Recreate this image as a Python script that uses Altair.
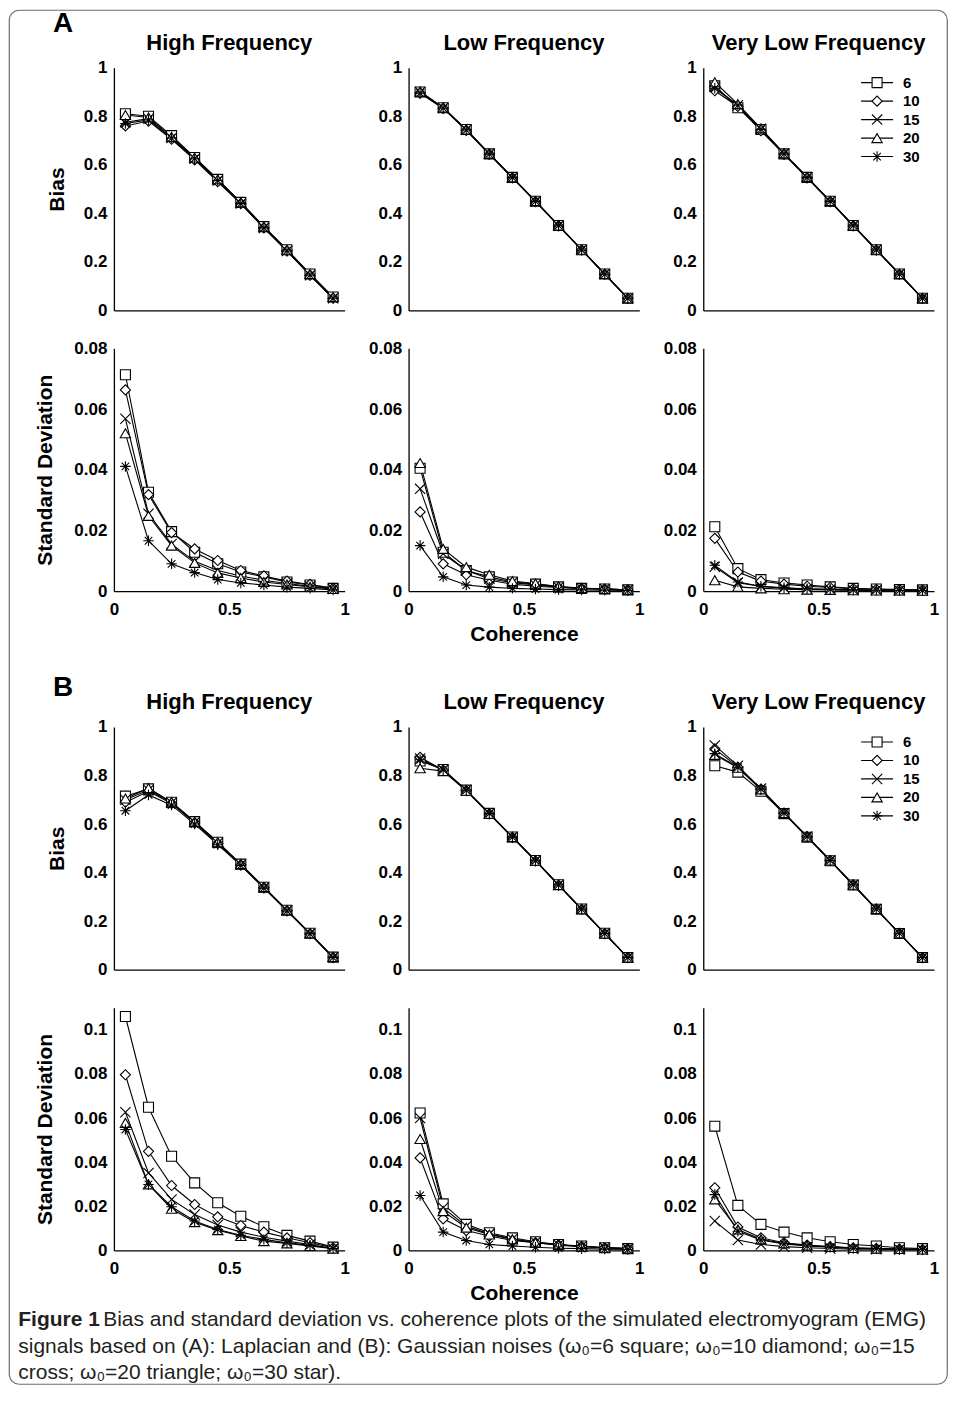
import altair as alt
import pandas as pd

FONT = "Liberation Sans"

# ---------------- data ----------------
COHERENCE = [0.05, 0.15, 0.25, 0.35, 0.45, 0.55, 0.65, 0.75, 0.85, 0.95]
SERIES = ["6", "10", "15", "20", "30"]

A_HF_BIAS = {
    "6":  [0.81, 0.80, 0.72, 0.63, 0.54, 0.445, 0.345, 0.25, 0.15, 0.055],
    "10": [0.76, 0.78, 0.705, 0.62, 0.53, 0.44, 0.34, 0.245, 0.145, 0.05],
    "15": [0.775, 0.79, 0.71, 0.625, 0.535, 0.44, 0.34, 0.245, 0.145, 0.05],
    "20": [0.805, 0.795, 0.715, 0.63, 0.54, 0.445, 0.345, 0.25, 0.15, 0.055],
    "30": [0.77, 0.785, 0.71, 0.625, 0.535, 0.44, 0.34, 0.245, 0.145, 0.05],
}
A_LF_BIAS = {
    "6":  [0.90, 0.835, 0.745, 0.645, 0.548, 0.45, 0.35, 0.25, 0.15, 0.05],
    "10": [0.895, 0.832, 0.742, 0.643, 0.546, 0.448, 0.348, 0.249, 0.149, 0.05],
    "15": [0.90, 0.834, 0.744, 0.645, 0.547, 0.449, 0.349, 0.25, 0.15, 0.05],
    "20": [0.902, 0.836, 0.745, 0.646, 0.548, 0.45, 0.35, 0.25, 0.15, 0.05],
    "30": [0.895, 0.833, 0.743, 0.644, 0.547, 0.449, 0.349, 0.249, 0.149, 0.05],
}
A_VLF_BIAS = {
    "6":  [0.925, 0.835, 0.745, 0.645, 0.548, 0.45, 0.35, 0.25, 0.15, 0.05],
    "10": [0.905, 0.84, 0.74, 0.643, 0.546, 0.448, 0.348, 0.249, 0.149, 0.05],
    "15": [0.92, 0.845, 0.748, 0.646, 0.548, 0.449, 0.349, 0.25, 0.15, 0.05],
    "20": [0.94, 0.85, 0.75, 0.647, 0.55, 0.45, 0.35, 0.25, 0.15, 0.05],
    "30": [0.915, 0.845, 0.746, 0.645, 0.547, 0.449, 0.349, 0.249, 0.149, 0.05],
}
A_HF_SD = {
    "6":  [0.0713, 0.0326, 0.0196, 0.0128, 0.009, 0.0063, 0.0047, 0.003, 0.002, 0.0009],
    "10": [0.0663, 0.0318, 0.0193, 0.0139, 0.0101, 0.0068, 0.005, 0.0033, 0.0022, 0.001],
    "15": [0.0568, 0.0255, 0.0155, 0.0098, 0.0068, 0.005, 0.0036, 0.0025, 0.0016, 0.0007],
    "20": [0.052, 0.0248, 0.015, 0.0093, 0.006, 0.0043, 0.003, 0.0022, 0.0014, 0.0007],
    "30": [0.0411, 0.0166, 0.009, 0.0061, 0.0038, 0.0027, 0.002, 0.0013, 0.0009, 0.0004],
}
A_LF_SD = {
    "6":  [0.0405, 0.0128, 0.0068, 0.0047, 0.003, 0.0023, 0.0014, 0.0009, 0.0007, 0.0004],
    "10": [0.0261, 0.009, 0.0054, 0.0036, 0.0023, 0.0016, 0.0012, 0.0009, 0.0007, 0.0004],
    "15": [0.0337, 0.0123, 0.0068, 0.0041, 0.0028, 0.002, 0.0013, 0.0009, 0.0007, 0.0004],
    "20": [0.0422, 0.0139, 0.0079, 0.0054, 0.0033, 0.0025, 0.0015, 0.001, 0.0007, 0.0004],
    "30": [0.015, 0.0047, 0.002, 0.0013, 0.0009, 0.0007, 0.0005, 0.0004, 0.0003, 0.0002],
}
A_VLF_SD = {
    "6":  [0.0212, 0.0074, 0.0038, 0.0027, 0.002, 0.0014, 0.0009, 0.0007, 0.0005, 0.0004],
    "10": [0.0174, 0.0063, 0.0033, 0.0023, 0.0016, 0.0012, 0.0008, 0.0006, 0.0005, 0.0003],
    "15": [0.008, 0.0028, 0.0015, 0.001, 0.0007, 0.0005, 0.0004, 0.0003, 0.0002, 0.0002],
    "20": [0.0036, 0.0014, 0.0009, 0.0006, 0.0005, 0.0004, 0.0003, 0.0002, 0.0002, 0.0001],
    "30": [0.0085, 0.003, 0.0016, 0.0011, 0.0008, 0.0006, 0.0004, 0.0003, 0.0002, 0.0002],
}
B_HF_BIAS = {
    "6":  [0.715, 0.745, 0.69, 0.61, 0.525, 0.435, 0.34, 0.245, 0.15, 0.052],
    "10": [0.69, 0.735, 0.685, 0.605, 0.52, 0.432, 0.338, 0.243, 0.148, 0.05],
    "15": [0.70, 0.74, 0.688, 0.607, 0.522, 0.433, 0.339, 0.244, 0.149, 0.051],
    "20": [0.705, 0.748, 0.69, 0.61, 0.525, 0.435, 0.34, 0.245, 0.15, 0.052],
    "30": [0.655, 0.72, 0.678, 0.60, 0.515, 0.43, 0.336, 0.242, 0.148, 0.05],
}
B_LF_BIAS = {
    "6":  [0.86, 0.825, 0.74, 0.644, 0.547, 0.45, 0.35, 0.25, 0.15, 0.05],
    "10": [0.875, 0.822, 0.738, 0.642, 0.545, 0.448, 0.348, 0.249, 0.149, 0.05],
    "15": [0.87, 0.824, 0.74, 0.644, 0.547, 0.449, 0.349, 0.25, 0.15, 0.05],
    "20": [0.83, 0.818, 0.737, 0.642, 0.546, 0.449, 0.349, 0.249, 0.149, 0.05],
    "30": [0.865, 0.823, 0.739, 0.643, 0.546, 0.449, 0.349, 0.249, 0.149, 0.05],
}
B_VLF_BIAS = {
    "6":  [0.84, 0.814, 0.735, 0.643, 0.546, 0.449, 0.349, 0.249, 0.149, 0.05],
    "10": [0.91, 0.835, 0.744, 0.645, 0.548, 0.45, 0.35, 0.25, 0.15, 0.05],
    "15": [0.924, 0.84, 0.746, 0.646, 0.549, 0.45, 0.35, 0.25, 0.15, 0.05],
    "20": [0.885, 0.832, 0.743, 0.645, 0.548, 0.45, 0.35, 0.25, 0.15, 0.05],
    "30": [0.89, 0.834, 0.744, 0.645, 0.548, 0.45, 0.35, 0.25, 0.15, 0.05],
}
B_HF_SD = {
    "6":  [0.106, 0.0649, 0.0427, 0.0306, 0.0216, 0.0155, 0.0107, 0.0068, 0.0042, 0.0015],
    "10": [0.0796, 0.0449, 0.0294, 0.0208, 0.0152, 0.0113, 0.0083, 0.0057, 0.0035, 0.0012],
    "15": [0.0626, 0.0351, 0.0231, 0.0163, 0.0115, 0.0083, 0.006, 0.0042, 0.0027, 0.0009],
    "20": [0.0578, 0.0299, 0.0189, 0.0128, 0.0092, 0.0065, 0.0042, 0.0032, 0.002, 0.0008],
    "30": [0.0548, 0.0299, 0.0198, 0.0133, 0.0095, 0.0069, 0.005, 0.0035, 0.0023, 0.0009],
}
B_LF_SD = {
    "6":  [0.0623, 0.0211, 0.0118, 0.008, 0.0057, 0.0039, 0.0027, 0.002, 0.0012, 0.0008],
    "10": [0.0419, 0.0143, 0.009, 0.0065, 0.0045, 0.0035, 0.0025, 0.0018, 0.0012, 0.0008],
    "15": [0.060, 0.0193, 0.011, 0.0075, 0.0052, 0.0037, 0.0026, 0.0019, 0.0012, 0.0008],
    "20": [0.0505, 0.0178, 0.0103, 0.0072, 0.005, 0.0035, 0.0024, 0.0017, 0.0012, 0.0008],
    "30": [0.0249, 0.0083, 0.0045, 0.0027, 0.002, 0.0014, 0.001, 0.0008, 0.0006, 0.0004],
}
B_VLF_SD = {
    "6":  [0.0563, 0.0204, 0.0118, 0.0083, 0.0057, 0.0039, 0.0027, 0.002, 0.0012, 0.0008],
    "10": [0.0284, 0.0106, 0.0057, 0.0035, 0.0024, 0.0017, 0.0012, 0.0009, 0.0006, 0.0004],
    "15": [0.0133, 0.0047, 0.0027, 0.0017, 0.0012, 0.0009, 0.0006, 0.0005, 0.0004, 0.0003],
    "20": [0.0231, 0.0095, 0.005, 0.0032, 0.0022, 0.0016, 0.0011, 0.0008, 0.0006, 0.0004],
    "30": [0.0253, 0.0087, 0.0047, 0.0029, 0.002, 0.0015, 0.001, 0.0008, 0.0006, 0.0004],
}

COLUMN_TITLES = ["High Frequency", "Low Frequency", "Very Low Frequency"]
BIAS_TICKS = [0, 0.2, 0.4, 0.6, 0.8, 1]
SD_A_TICKS = [0, 0.02, 0.04, 0.06, 0.08]
SD_B_TICKS = [0, 0.02, 0.04, 0.06, 0.08, 0.1]
X_TICKS = [0, 0.5, 1]
CAPTION_BOLD = "Figure 1"
CAPTION_LINES = [
    "Bias and standard deviation vs. coherence plots of the simulated electromyogram (EMG)",
    "signals based on (A): Laplacian and (B): Gaussian noises (ω₀=6 square; ω₀=10 diamond; ω₀=15",
    "cross; ω₀=20 triangle; ω₀=30 star).",
]

# ---------------- style ----------------
W, H = 231, 243
CROSS = "M-1,-1L1,1M-1,1L1,-1"
STAR = "M0,-1L0,1M-1,0L1,0M-0.72,-0.72L0.72,0.72M-0.72,0.72L0.72,-0.72"
SHAPE_SCALE = alt.Scale(domain=SERIES, range=["square", "diamond", CROSS, "triangle-up", STAR])
SIZE_SCALE = alt.Scale(domain=SERIES, range=[100, 110, 45, 115, 85])

one = pd.DataFrame({"k": [0]})


def long_df(d):
    rows = []
    for s in SERIES:
        for x, y in zip(COHERENCE, d[s]):
            rows.append({"series": s, "x": x, "y": y})
    return pd.DataFrame(rows)


def marker_kw():
    return dict(filled=True, fill="white", stroke="black", strokeWidth=1.1, opacity=1)


def text_at(text, xv, yv, size, weight="bold", align="left", color="black", baseline="middle"):
    return alt.Chart(one).mark_text(text=text, font=FONT, fontSize=size, fontWeight=weight,
                                    align=align, baseline=baseline, color=color).encode(
        x=alt.value(xv), y=alt.value(yv))


def panel(d, ymax, yticks, ytitle="", ytitle_pad=16, xlabels=False, xtitle="",
          title=None, title_y=-18, legend=False, extras=None, height=H):
    df = long_df(d)
    x = alt.X("x:Q", scale=alt.Scale(domain=[0, 1], nice=False),
              axis=alt.Axis(values=X_TICKS, format="~g", labels=xlabels, labelPadding=10,
                            labelFlush=False, title=xtitle, titlePadding=6))
    y = alt.Y("y:Q", scale=alt.Scale(domain=[0, ymax], nice=False, zero=True),
              axis=alt.Axis(values=yticks, format="~g", labelPadding=7,
                            title=ytitle, titlePadding=ytitle_pad))
    base = alt.Chart(df)
    lines = base.mark_line(color="black", strokeWidth=1.1).encode(
        x=x, y=y, detail="series:N", order="x:Q")
    pts = base.mark_point(**marker_kw()).encode(
        x=x, y=y,
        shape=alt.Shape("series:N", scale=SHAPE_SCALE, legend=None),
        size=alt.Size("series:O", scale=SIZE_SCALE, legend=None),
    )
    layers = [alt.layer(lines, pts)]
    if legend:
        ldf = pd.DataFrame({"series": SERIES})
        ly = alt.Y("series:N", scale=alt.Scale(type="point", domain=SERIES, range=[15, 89], padding=0),
                   axis=None)
        lb = alt.Chart(ldf)
        lrule = lb.mark_rule(color="black", strokeWidth=1.1).encode(
            x=alt.value(158), x2=alt.value(190), y=ly)
        lpts = lb.mark_point(**marker_kw()).encode(
            x=alt.value(174), y=ly,
            shape=alt.Shape("series:N", scale=SHAPE_SCALE, legend=None),
            size=alt.Size("series:O", scale=SIZE_SCALE, legend=None))
        ltxt = lb.mark_text(align="left", baseline="middle", font=FONT, fontSize=15,
                            fontWeight="bold", color="black").encode(
            x=alt.value(200), y=ly, text="series:N")
        layers.append(alt.layer(lrule, lpts, ltxt))
    if title:
        layers.append(text_at(title, W / 2, title_y, 22, align="center", baseline="alphabetic"))
    if extras:
        layers.extend(extras)
    ch = alt.layer(*layers)
    if legend:
        ch = ch.resolve_scale(y="independent")
    return ch.properties(width=W, height=height)


frame = alt.Chart(one).mark_rect(fill="transparent", stroke="#6e6e6e", strokeWidth=1.2,
                                 cornerRadius=10).encode(
    x=alt.value(-104.7), x2=alt.value(834.3), y=alt.value(-57.5), y2=alt.value(1318))

label_a = text_at("A", -61, -57.5, 28, baseline="top")
label_b = text_at("B", -61, -53, 28, baseline="top")

CAP_COLOR = "#231f20"
CAP_SIZE = 21
caption = [
    text_at(CAPTION_BOLD, -95.7, 312.5, CAP_SIZE, "bold", color=CAP_COLOR),
    text_at(CAPTION_LINES[0], -10.7, 312.5, CAP_SIZE, "normal", color=CAP_COLOR),
    text_at(CAPTION_LINES[1], -95.7, 339.5, CAP_SIZE, "normal", color=CAP_COLOR),
    text_at(CAPTION_LINES[2], -95.7, 366, CAP_SIZE, "normal", color=CAP_COLOR),
]

panels_a = [
    panel(A_HF_BIAS, 1, BIAS_TICKS, ytitle="Bias", ytitle_pad=16, title=COLUMN_TITLES[0],
          extras=[frame, label_a]),
    panel(A_LF_BIAS, 1, BIAS_TICKS, title=COLUMN_TITLES[1]),
    panel(A_VLF_BIAS, 1, BIAS_TICKS, title=COLUMN_TITLES[2], legend=True),
    panel(A_HF_SD, 0.08, SD_A_TICKS, ytitle="Standard Deviation", ytitle_pad=18, xlabels=True),
    panel(A_LF_SD, 0.08, SD_A_TICKS, xlabels=True, xtitle="Coherence"),
    panel(A_VLF_SD, 0.08, SD_A_TICKS, xlabels=True),
]

spacers = [alt.Chart(one).mark_point(opacity=0).properties(width=W, height=60) for _ in range(3)]

panels_b = [
    panel(B_HF_BIAS, 1, BIAS_TICKS, ytitle="Bias", ytitle_pad=16, title=COLUMN_TITLES[0],
          extras=[label_b]),
    panel(B_LF_BIAS, 1, BIAS_TICKS, title=COLUMN_TITLES[1]),
    panel(B_VLF_BIAS, 1, BIAS_TICKS, title=COLUMN_TITLES[2], legend=True),
    panel(B_HF_SD, 0.11, SD_B_TICKS, ytitle="Standard Deviation", ytitle_pad=18, xlabels=True,
          extras=caption),
    panel(B_LF_SD, 0.11, SD_B_TICKS, xlabels=True, xtitle="Coherence"),
    panel(B_VLF_SD, 0.11, SD_B_TICKS, xlabels=True),
]

chart = alt.concat(*(panels_a + spacers + panels_b), columns=3,
                   spacing={"row": 38, "column": 64}, bounds="flush").properties(
    padding=0, background="white"
).configure_view(stroke="transparent").configure_axis(
    domainColor="black", domainWidth=1.3, ticks=False, grid=False,
    labelFont=FONT, labelFontWeight="bold", labelFontSize=17, labelColor="black",
    titleFont=FONT, titleFontWeight="bold", titleFontSize=21, titleColor="black",
)

chart.save("out.html", embed_options={"renderer": "svg", "actions": False})
